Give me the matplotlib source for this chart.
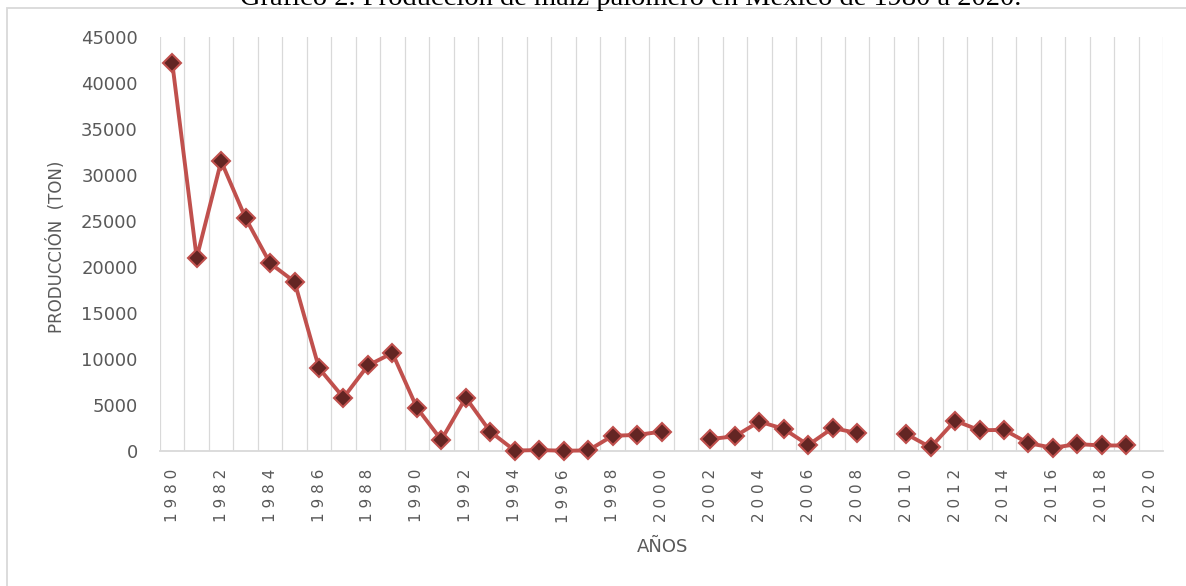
import matplotlib.pyplot as plt
from matplotlib.patches import Rectangle
import numpy as np

# production of popcorn maize, tons (NaN = year without data)
years = list(range(1980, 2021))
produccion = [42200, 21000, 31500, 25300, 20400, 18400, 9000, 5800, 9300, 10650,
              4700, 1200, 5800, 2100, 50, 100, 30, 60, 1650, 1750,
              2100, np.nan, 1300, 1600, 3200, 2400, 650, 2500, 1950, np.nan,
              1850, 400, 3300, 2250, 2300, 850, 350, 750, 600, 600,
              np.nan]
titulo = "Gráfico 2. Producción de maíz palomero en México de 1980 a 2020."

gris = "#595959"
rejilla = "#d9d9d9"

fig = plt.figure(figsize=(11.86, 5.86), dpi=100)

# outer chart border (runs off the right and bottom edges)
fig.patches.append(Rectangle((7 / 1186, -0.1), 1.2, 1 - 7.5 / 586 + 0.1,
                             transform=fig.transFigure, fill=False,
                             edgecolor=rejilla, lw=1.3))

fig.text(631 / 1186, 1 - 5 / 586, titulo, ha="center", va="baseline",
         fontsize=20.5, family="Liberation Serif", color="black")

ax = fig.add_axes([160 / 1186, 1 - 451 / 586, (1163 - 160) / 1186, (451 - 37) / 586])

x = np.arange(len(years))
ax.plot(x, produccion, color="#C0504D", lw=2.8, marker="D", ms=9.5,
        markerfacecolor="#632523", markeredgecolor="#C0504D", mew=1.5,
        zorder=3, clip_on=False)

ax.set_xlim(-0.5, len(years) - 0.5)
ax.set_ylim(0, 45000)

# vertical gridlines between categories
ax.set_xticks(np.arange(-0.5, len(years), 1), minor=True)
ax.grid(True, which="minor", axis="x", color=rejilla, lw=0.9)
ax.tick_params(which="minor", length=0)

ax.set_xticks(x[::2])
ax.set_xticklabels([" ".join(str(y)) for y in years[::2]], rotation=90,
                   fontsize=11, color=gris)
ax.tick_params(axis="x", length=0, pad=13)

ax.set_yticks(range(0, 45001, 5000))
ax.set_yticklabels([str(v) for v in range(0, 45001, 5000)], fontsize=13, color=gris)
ax.tick_params(axis="y", length=0, pad=16)

for s in ["top", "right", "left"]:
    ax.spines[s].set_visible(False)
ax.spines["bottom"].set_color(rejilla)
ax.spines["bottom"].set_linewidth(1.3)

fig.text(57 / 1186, 1 - 247 / 586, "PRODUCCIÓN  (TON)", rotation=90,
         ha="center", va="center", fontsize=12, color=gris)
fig.text(663 / 1186, 1 - 547 / 586, "AÑOS", ha="center", va="center",
         fontsize=13, color=gris)

fig.savefig("out.png", dpi=100)
